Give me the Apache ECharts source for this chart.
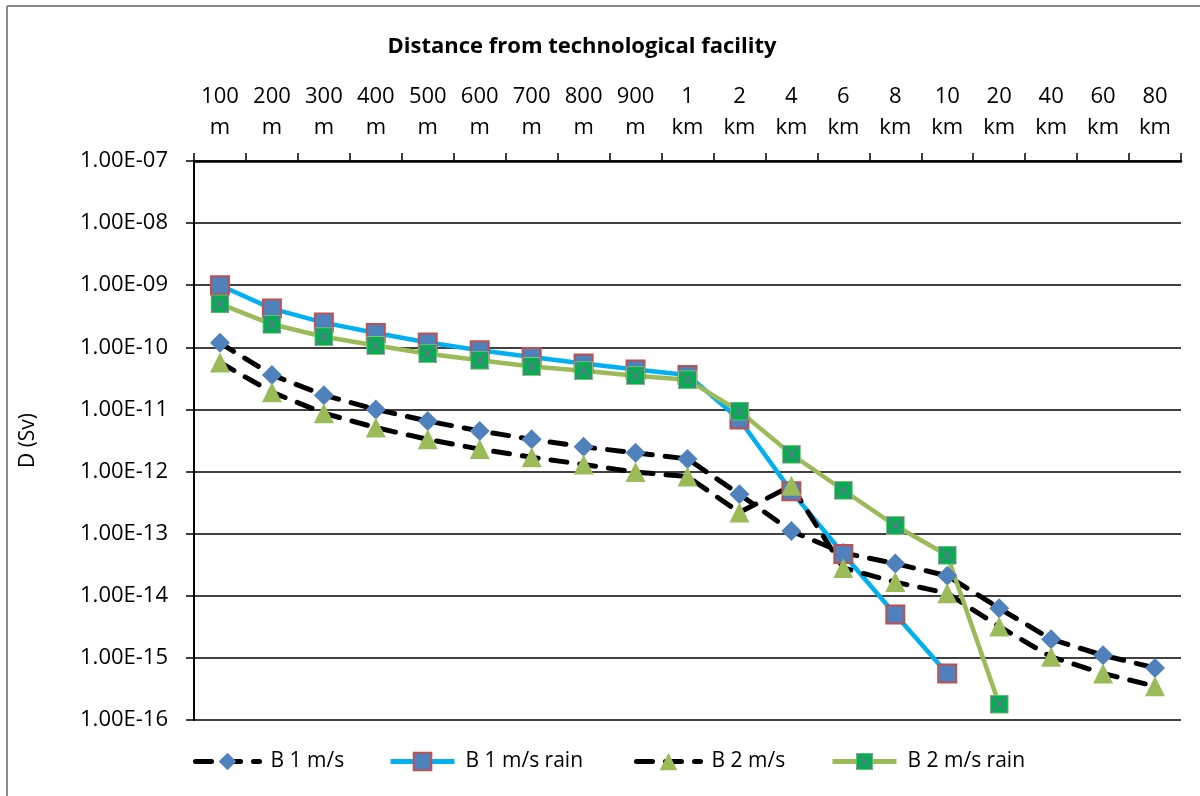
<!DOCTYPE html>
<html>
<head>
<meta charset="utf-8">
<title>Distance from technological facility</title>
<script src="https://cdn.jsdelivr.net/npm/echarts@6/dist/echarts.min.js"></script>
<style>
  html, body { margin: 0; padding: 0; background: #ffffff; }
  #chart { width: 1200px; height: 796px; }
</style>
</head>
<body>
<div id="chart"></div>
<script>
// Distances from the facility (category axis, shown on top)
const categories = ['100 m', '200 m', '300 m', '400 m', '500 m', '600 m', '700 m', '800 m', '900 m',
  '1 km', '2 km', '4 km', '6 km', '8 km', '10 km', '20 km', '40 km', '60 km', '80 km'];

// Dose D (Sv) per stability class / wind speed scenario
const b1 = [1.18e-10, 3.6e-11, 1.7e-11, 1.0e-11, 6.5e-12, 4.5e-12, 3.3e-12, 2.5e-12, 2.0e-12,
  1.6e-12, 4.3e-13, 1.1e-13, 4.9e-14, 3.3e-14, 2.1e-14, 6.3e-15, 2.0e-15, 1.1e-15, 6.9e-16];
const b1Rain = [1.0e-9, 4.2e-10, 2.5e-10, 1.7e-10, 1.2e-10, 9.0e-11, 7.0e-11, 5.5e-11, 4.4e-11,
  3.6e-11, 6.9e-12, 4.8e-13, 4.7e-14, 5.0e-15, 5.6e-16, null, null, null, null];
const b2 = [5.7e-11, 1.9e-11, 8.7e-12, 5.1e-12, 3.3e-12, 2.3e-12, 1.7e-12, 1.3e-12, 9.8e-13,
  8.3e-13, 2.2e-13, 5.9e-13, 2.8e-14, 1.66e-14, 1.1e-14, 3.2e-15, 1.04e-15, 5.6e-16, 3.5e-16];
const b2Rain = [5.0e-10, 2.35e-10, 1.48e-10, 1.07e-10, 7.9e-11, 6.2e-11, 4.9e-11, 4.2e-11, 3.5e-11,
  3.0e-11, 9.4e-12, 1.9e-12, 5.0e-13, 1.35e-13, 4.5e-14, 1.8e-16, null, null, null];

const seriesNames = ['B 1 m/s', 'B 1 m/s rain', 'B 2 m/s', 'B 2 m/s rain'];

const FONT = 'Open Sans';

// Green square marker with a purple cross
const crossSquareSvg =
  "<svg xmlns='http://www.w3.org/2000/svg' width='40' height='40'>" +
  "<rect x='1' y='1' width='38' height='38' fill='#00B050' stroke='#92C47A' stroke-width='2'/>" +
  "<path d='M2 2L38 38M38 2L2 38' stroke='#8064A2' stroke-width='2.5'/></svg>";
const crossSquare = 'image://data:image/svg+xml;charset=utf-8,' + encodeURIComponent(crossSquareSvg);

function sci(v) {
  let e = Math.floor(Math.log10(v) + 1e-9);
  let m = v / Math.pow(10, e);
  if (m >= 9.995) { m /= 10; e += 1; }
  return m.toFixed(2) + 'E' + (e < 0 ? '-' : '+') + String(Math.abs(e)).padStart(2, '0');
}

const chart = echarts.init(document.getElementById('chart'), null, { renderer: 'canvas' });

const legendBase = {
  top: 746,
  itemWidth: 64,
  itemHeight: 22,
  lineStyle: { width: 5 },
  textStyle: { fontFamily: FONT, fontSize: 21, color: '#000', padding: [0, 0, 0, 6] }
};

chart.setOption({
  backgroundColor: '#ffffff',
  animation: false,
  graphic: [
    { type: 'line', shape: { x1: 7, y1: 6, x2: 1200, y2: 6 }, style: { stroke: '#8a8a8a', lineWidth: 2 } },
    { type: 'line', shape: { x1: 7, y1: 6, x2: 7, y2: 796 }, style: { stroke: '#8a8a8a', lineWidth: 2 } },
    {
      type: 'text', x: 582, y: 47,
      style: {
        text: 'Distance from technological facility', fontFamily: FONT, fontSize: 22, fontWeight: 'bold',
        fill: '#000', align: 'center', verticalAlign: 'middle'
      }
    }
  ],
  legend: [
    Object.assign({}, legendBase, { left: 188, data: [seriesNames[0]] }),
    Object.assign({}, legendBase, { left: 383, data: [seriesNames[1]] }),
    Object.assign({}, legendBase, { left: 629, data: [seriesNames[2]] }),
    Object.assign({}, legendBase, { left: 825, data: [seriesNames[3]] })
  ],
  grid: { left: 194, right: 19, top: 161, bottom: 76, containLabel: false },
  xAxis: {
    type: 'category',
    position: 'top',
    data: categories,
    boundaryGap: true,
    axisLine: { lineStyle: { color: '#000', width: 2.5 } },
    axisTick: { show: true, interval: 0, length: 8, lineStyle: { color: '#000', width: 1.5 } },
    axisLabel: {
      interval: 0, margin: 18, fontFamily: FONT, fontSize: 22, color: '#000', lineHeight: 31,
      formatter: (v) => v.replace(' ', '\n')
    },
    splitLine: { show: false }
  },
  yAxis: {
    type: 'log',
    logBase: 10,
    min: 1e-16,
    max: 1e-7,
    interval: 1,
    name: 'D (Sv)',
    nameLocation: 'middle',
    nameGap: 155,
    nameTextStyle: { fontFamily: FONT, fontSize: 21, color: '#000' },
    axisLine: { show: true, lineStyle: { color: '#000', width: 2 } },
    axisTick: { show: true, length: 8, lineStyle: { color: '#000', width: 1.5 } },
    axisLabel: { fontFamily: FONT, fontSize: 22, color: '#000', margin: 26, formatter: sci },
    splitLine: { show: true, lineStyle: { color: '#000', width: 1.5 } },
    minorTick: { show: false },
    minorSplitLine: { show: false }
  },
  series: [
    {
      name: seriesNames[0], type: 'line', data: b1,
      symbol: 'diamond', symbolSize: 20,
      itemStyle: { color: '#4F81BD' },
      lineStyle: { color: '#000', width: 5, type: [16, 13], cap: 'round' }
    },
    {
      name: seriesNames[1], type: 'line', data: b1Rain,
      symbol: 'rect', symbolSize: 18,
      itemStyle: { color: '#4F81BD', borderColor: '#C0504D', borderWidth: 2 },
      lineStyle: { color: '#00B0F0', width: 4.5 }
    },
    {
      name: seriesNames[2], type: 'line', data: b2,
      symbol: 'triangle', symbolSize: 20,
      itemStyle: { color: '#9BBB59' },
      lineStyle: { color: '#000', width: 5, type: [16, 13], cap: 'round' }
    },
    {
      name: seriesNames[3], type: 'line', data: b2Rain,
      symbol: crossSquare, symbolSize: 19,
      itemStyle: { color: '#00B050' },
      lineStyle: { color: '#9BBB59', width: 4.5 }
    }
  ]
});
</script>
</body>
</html>
